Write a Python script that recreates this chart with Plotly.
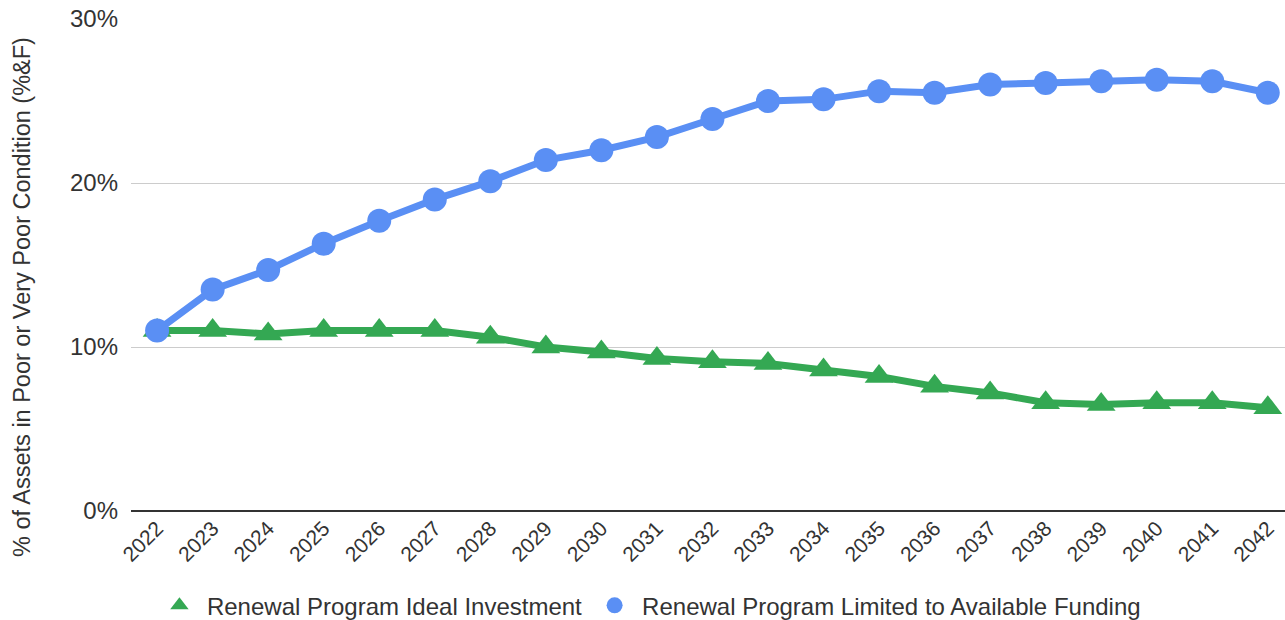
import plotly.graph_objects as go

# Condition forecast by year
years = [2022, 2023, 2024, 2025, 2026, 2027, 2028, 2029, 2030, 2031, 2032,
         2033, 2034, 2035, 2036, 2037, 2038, 2039, 2040, 2041, 2042]
ideal_investment = [11.0, 11.0, 10.8, 11.0, 11.0, 11.0, 10.6, 10.0, 9.7, 9.3, 9.1,
                    9.0, 8.6, 8.2, 7.6, 7.2, 6.6, 6.5, 6.6, 6.6, 6.3]
limited_funding = [11.0, 13.5, 14.7, 16.3, 17.7, 19.0, 20.1, 21.4, 22.0, 22.8, 23.9,
                   25.0, 25.1, 25.6, 25.5, 26.0, 26.1, 26.2, 26.3, 26.2, 25.5]
y_ticks = [0, 10, 20, 30]
y_tick_labels = ["0%", "10%", "20%", "30%"]
y_title = "% of Assets in Poor or Very Poor Condition (%&F)"

GREEN = "#34a853"
BLUE = "#5a8ff4"
FONT = "Liberation Sans, Arial, sans-serif"
TEXT = "#333333"

fig = go.Figure()

# connecting lines (kept out of the legend)
fig.add_trace(go.Scatter(x=years, y=ideal_investment, mode="lines",
                         line=dict(color=GREEN, width=7), showlegend=False,
                         hoverinfo="skip"))
fig.add_trace(go.Scatter(x=years, y=limited_funding, mode="lines",
                         line=dict(color=BLUE, width=7), showlegend=False,
                         hoverinfo="skip"))

# markers (legend entries)
fig.add_trace(go.Scatter(x=years, y=ideal_investment, mode="markers",
                         name="Renewal Program Ideal Investment",
                         marker=dict(symbol="triangle-up", size=25, color=GREEN)))
fig.add_trace(go.Scatter(x=years, y=limited_funding, mode="markers",
                         name="Renewal Program Limited to Available Funding",
                         marker=dict(symbol="circle", size=24, color=BLUE)))

# vertical axis title, placed in paper space
fig.add_annotation(text=y_title, textangle=-90, showarrow=False,
                   xref="paper", yref="paper", x=-0.0945, y=0.435,
                   xanchor="center", yanchor="middle",
                   font=dict(size=23.5, color=TEXT, family=FONT))

fig.update_layout(
    width=1285, height=620,
    margin=dict(l=131, r=0, t=19, b=109, autoexpand=False),
    paper_bgcolor="white", plot_bgcolor="white",
    font=dict(family=FONT, size=24, color=TEXT),
    legend=dict(orientation="h", xref="container", yref="container",
                x=0.505, xanchor="center", y=0.023, yanchor="middle",
                font=dict(size=24, color=TEXT), itemwidth=45,
                tracegroupgap=0, traceorder="normal"),
    xaxis=dict(
        tickmode="array", tickvals=years, ticktext=[str(y) for y in years],
        tickangle=-45, range=[2021.53, 2042.31], automargin=False,
        showgrid=False, zeroline=False, showline=False, ticks="",
        tickfont=dict(size=21, color=TEXT),
    ),
    yaxis=dict(
        range=[0, 30], tickmode="array", tickvals=y_ticks, ticktext=y_tick_labels,
        automargin=False, ticklabelstandoff=12,
        showgrid=True, gridcolor="#cccccc", gridwidth=1,
        zeroline=True, zerolinecolor="#333333", zerolinewidth=2,
        showline=False, ticks="", ticklen=0,
        tickfont=dict(size=24, color=TEXT),
    ),
)

fig.write_html("out.html")
